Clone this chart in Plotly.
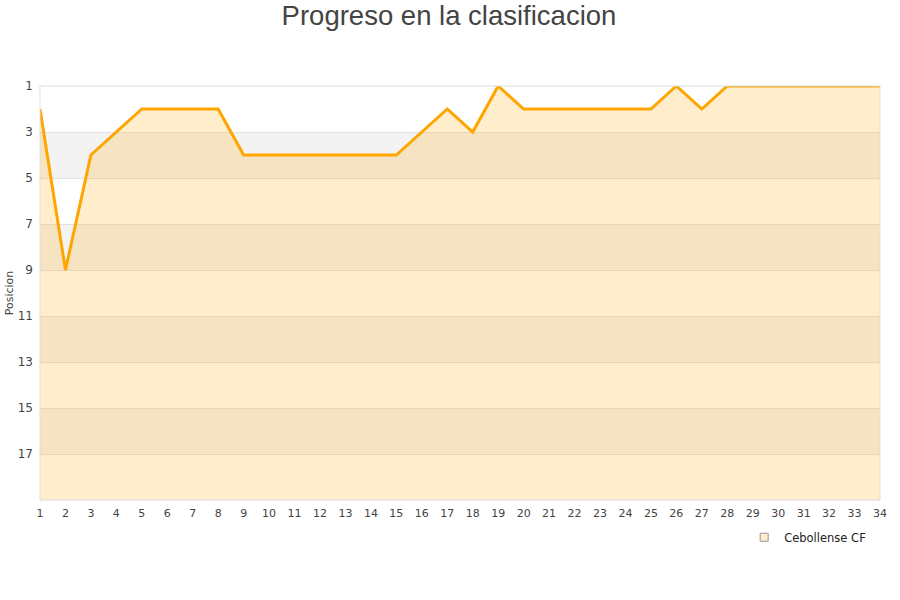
import plotly.graph_objects as go

jornadas = list(range(1, 35))
posiciones = [2, 9, 4, 3, 2, 2, 2, 2, 4, 4, 4, 4, 4, 4, 4, 3, 2, 3, 1, 2,
              2, 2, 2, 2, 2, 1, 2, 1, 1, 1, 1, 1, 1, 1]
y_ticks = [1, 3, 5, 7, 9, 11, 13, 15, 17]
team = "Cebollense CF"

fig = go.Figure()

# baseline for the area fill
fig.add_trace(go.Scatter(x=jornadas, y=[19] * len(jornadas), mode="lines",
                         line=dict(width=0, color="rgba(0,0,0,0)"),
                         showlegend=False, hoverinfo="skip"))
fig.add_trace(go.Scatter(x=jornadas, y=posiciones, mode="lines", name=team,
                         line=dict(color="#ffa500", width=3),
                         fill="tonexty", fillcolor="rgba(255,165,0,0.2)",
                         showlegend=False))
# legend entry
fig.add_trace(go.Scatter(x=[None], y=[None], mode="markers", name=team,
                         marker=dict(symbol="square", size=8, color="#ffedcc",
                                     line=dict(color="#999", width=1))))

shapes = []
for lo in [3, 7, 11, 15]:
    shapes.append(dict(type="rect", xref="paper", yref="y", x0=0, x1=1,
                       y0=lo, y1=lo + 2, fillcolor="#f3f3f3", line_width=0,
                       layer="below"))
shapes.append(dict(type="rect", xref="paper", yref="paper", x0=0, x1=1, y0=0, y1=1,
                   line=dict(color="#dddddd", width=1), fillcolor="rgba(0,0,0,0)",
                   layer="above"))

fig.update_layout(
    width=900, height=600,
    paper_bgcolor="white", plot_bgcolor="white",
    margin=dict(l=40, r=20, t=86, b=100, autoexpand=False),
    title=dict(text="Progreso en la clasificacion", x=449 / 900, xanchor="center",
               y=1 - 15 / 600, yanchor="middle",
               font=dict(family="Liberation Sans", size=27.5, color="#444")),
    font=dict(family="DejaVu Sans", size=11, color="#444"),
    shapes=shapes,
    showlegend=True,
    legend=dict(x=0.9895, xanchor="right", y=-0.09, yanchor="middle",
                bgcolor="rgba(255,255,255,0)", font=dict(size=11.5, color="#222"),
                itemwidth=30),
)
fig.update_xaxes(range=[1, 34], tickmode="array", tickvals=jornadas,
                 showgrid=False, zeroline=False, showline=False, ticks="",
                 automargin=False, ticklabelstandoff=5,
                 tickfont=dict(size=11, color="#444"))
fig.update_yaxes(range=[19, 1], tickmode="array", tickvals=y_ticks,
                 showgrid=True, gridcolor="#e2e2e2", gridwidth=1,
                 zeroline=False, showline=False, ticks="", automargin=False,
                 ticklabelstandoff=6,
                 title=dict(text="Posicion", font=dict(size=11, color="#444"), standoff=1),
                 tickfont=dict(size=12, color="#444"))

fig.write_html("out.html", config={"displayModeBar": False},
               post_script="document.body.style.margin='0';")
